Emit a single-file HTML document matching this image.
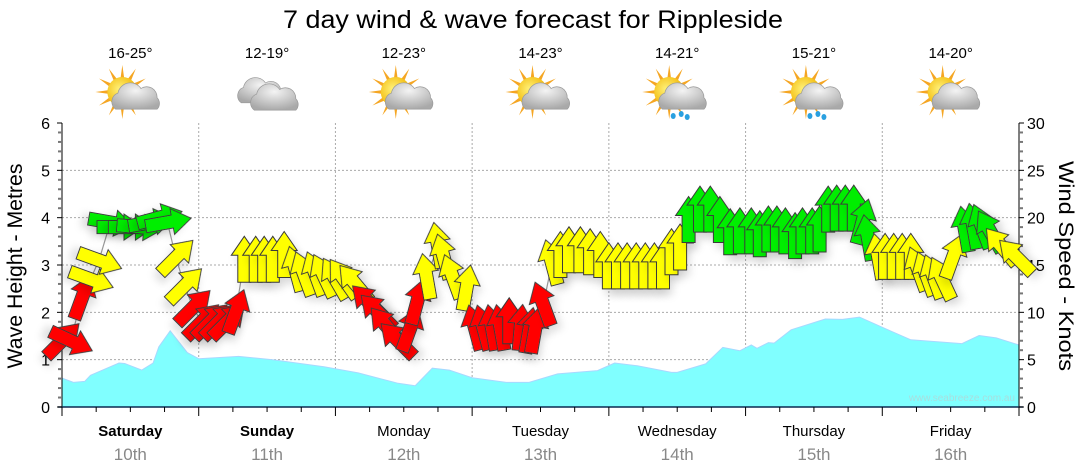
<!DOCTYPE html>
<html><head><meta charset="utf-8"><style>
html,body{margin:0;padding:0;background:#fff;}
svg{display:block;font-family:"Liberation Sans",sans-serif;}
</style></head><body>
<svg id="chart" width="1080" height="475" viewBox="0 0 1080 475" xmlns="http://www.w3.org/2000/svg">
<defs>
<filter id="sh" x="-50%" y="-50%" width="200%" height="200%"><feDropShadow dx="3" dy="6" stdDeviation="4" flood-color="#000" flood-opacity="0.12"/></filter>
<radialGradient id="cloudG" cx="50%" cy="30%" r="70%"><stop offset="0" stop-color="#f4f4f4"/><stop offset="1" stop-color="#a9a9a9"/></radialGradient>
<radialGradient id="sunG" cx="40%" cy="40%" r="60%"><stop offset="0" stop-color="#fff27a"/><stop offset="1" stop-color="#f2b705"/></radialGradient>
</defs>
<text x="533" y="28" font-size="25" text-anchor="middle" textLength="500" lengthAdjust="spacingAndGlyphs">7 day wind &amp; wave forecast for Rippleside</text>
<g id="days"></g>
<g id="grid"></g>
<g id="wave"></g>
<g id="axes"></g>
<g id="wind"></g>
<text x="1015" y="401" font-size="10" fill="#a8dede" text-anchor="end">www.seabreeze.com.au</text>
<text transform="translate(22,266) rotate(-90)" font-size="21" text-anchor="middle" textLength="205" lengthAdjust="spacingAndGlyphs">Wave Height - Metres</text>
<text transform="translate(1059,266) rotate(90)" font-size="21" text-anchor="middle" textLength="210" lengthAdjust="spacingAndGlyphs">Wind Speed - Knots</text>
</svg>
<script>
const dayNames = ["Saturday","Sunday","Monday","Tuesday","Wednesday","Thursday","Friday"];
const dayDates = ["10th","11th","12th","13th","14th","15th","16th"];
const dayBold = [true,true,false,false,false,false,false];
const dayTemps = ["16-25°","12-19°","12-23°","14-23°","14-21°","15-21°","14-20°"];
const dayIcons = ["sun-cloud","cloud","sun-cloud","sun-cloud","sun-rain","sun-rain","sun-cloud"];
const waveTicks = [0,1,2,3,4,5,6];
const windTicks = [0,5,10,15,20,25,30];
const waveHours = [0,2,4,5,10,11,14,16,17,19,22,24,31,37,46,52,59,62,65,68,72,78,82,87,94,97,101,107,108,113,116,119,121,122,124,125,128,134,137,140,145,149,158,161,164,168];
const waveHeights = [0.61,0.52,0.54,0.67,0.93,0.92,0.78,0.93,1.27,1.61,1.15,1.02,1.07,1.0,0.85,0.72,0.5,0.45,0.82,0.78,0.62,0.52,0.52,0.7,0.77,0.93,0.87,0.73,0.73,0.91,1.26,1.19,1.31,1.24,1.36,1.35,1.63,1.86,1.85,1.9,1.63,1.42,1.34,1.51,1.46,1.31];
const windHours = [0,1.5,3.5,5,6.5,8.5,10,12,13.5,15.5,17,18.5,20,21.5,23,24.5,26,27.5,29,30.5,32,34,35.5,37,39,41,42.5,44.5,46,48,49.5,51.5,54,55.5,57,59,61,62.3,64,66,67,68.6,71,72.5,74,75.5,77,78.5,80.5,82,83,84.5,86,87.5,89,91,92.7,94.5,96,97.6,99.2,100.8,102.4,104,105.5,107,108.5,110,112,113.8,115.5,117.3,119,121,122.5,124,125.5,127,128.7,130,131.7,133,134.5,136,137.5,139,140.5,141.5,143.3,144.5,146,147.5,149,150.3,151.7,153,154.5,156.4,158.5,160,161.5,163,165,167.6];
const windSpeeds = [7,7,11.5,13.5,15.5,19.5,19,19,19,19.5,20,19.5,15.8,12.8,10.5,9,9,9,9,10,15.5,15.5,15.5,15.5,16,14.5,14,14,13.8,13.5,13.5,13,11,10,8.5,7,8.1,11,13.7,17,15.8,13.7,12.5,8.3,8.3,8.3,8.3,9,8.3,8,8,10.8,15.2,16,16.5,16.5,16.3,16,14.8,14.8,14.8,14.8,14.8,14.8,14.8,16.3,16.8,19.7,20.8,20.8,19.7,18.4,18.5,18.5,18.2,18.7,18.7,18.5,18,18.5,18.5,18.7,20.8,20.9,20.9,20.9,19.5,17.8,15.8,15.8,15.8,15.8,15.8,14.5,14,13.7,13.5,15.8,18.7,19,19,18.5,16.9,15.8];
const windDirs = [45,115,20,110,110,100,90,90,95,80,75,80,45,45,45,45,45,45,45,20,0,0,0,0,0,-15,-20,-20,-25,-30,-35,-40,-45,-45,-40,-45,20,15,-10,-10,-15,-20,10,-15,-15,-10,-10,0,5,10,10,-20,-15,0,0,0,0,0,0,0,0,0,0,0,0,0,0,0,0,0,0,0,0,0,0,0,0,0,0,0,0,0,0,0,0,0,15,-10,-10,0,0,0,0,-20,-20,-20,-25,20,-10,-10,-20,-30,-40,-45];

const NS = "http://www.w3.org/2000/svg";
const X0 = 62, X1 = 1019, Y0 = 407, Y1 = 123;
const xH = h => X0 + h * (X1 - X0) / 168;
const yWave = m => Y0 - m * (Y0 - Y1) / 6;
const yWind = k => Y0 - k * (Y0 - Y1) / 30;
function mk(tag, attrs, parent, txt) {
  const e = document.createElementNS(NS, tag);
  for (const k in attrs) e.setAttribute(k, attrs[k]);
  if (txt !== undefined) e.textContent = txt;
  parent.appendChild(e);
  return e;
}
const gDays = document.getElementById("days"), gGrid = document.getElementById("grid"),
      gWave = document.getElementById("wave"), gAxes = document.getElementById("axes"), gWind = document.getElementById("wind");

waveTicks.forEach(t => {
  if (t === 0 || t === 6) return;
  const l = mk("line", {x1: X0, x2: X1, y1: yWave(t), y2: yWave(t), stroke: "#aaa", "stroke-dasharray": "2,2"}, gGrid);
  
  
});
for (let d = 1; d < 7; d++) {
  const l = mk("line", {x1: xH(d*24), x2: xH(d*24), y1: Y1, y2: Y0, stroke: "#aaa", "stroke-dasharray": "2,2"}, gGrid);
  
  
}

let dPath = "M" + xH(waveHours[0]) + "," + Y0;
waveHours.forEach((h, i) => { dPath += " L" + xH(h).toFixed(1) + "," + yWave(waveHeights[i]).toFixed(1); });
dPath += " L" + xH(waveHours[waveHours.length-1]) + "," + Y0 + " Z";
const wa = mk("path", {d: dPath, fill: "#80ffff", stroke: "#a8d8ff", "stroke-width": 1}, gWave);



mk("line", {x1: X0, x2: X0, y1: Y1, y2: Y0, stroke: "#000"}, gAxes);
mk("line", {x1: X1, x2: X1, y1: Y1, y2: Y0, stroke: "#000"}, gAxes);
mk("line", {x1: X0-4, x2: X1+4, y1: Y0, y2: Y0, stroke: "#0a2a50", "stroke-width": 1.5}, gAxes);
for (let i = 0; i <= 30; i++) {
  const y = yWave(i/5), maj = i % 5 === 0;
  mk("line", {x1: X0 - (maj ? 5 : 4), x2: X0, y1: y, y2: y, stroke: maj ? "#000" : "#777", "stroke-width": maj ? 1 : 2}, gAxes);
}
for (let i = 0; i <= 30; i++) {
  const y = yWind(i), maj = i % 5 === 0;
  mk("line", {x1: X1, x2: X1 + (maj ? 5 : 4), y1: y, y2: y, stroke: maj ? "#000" : "#777", "stroke-width": maj ? 1 : 2}, gAxes);
}
waveTicks.forEach(t => {
  const e = mk("text", {x: 50, y: yWave(t) + 6, "font-size": 16, "text-anchor": "end"}, gAxes, String(t));
  
  
});
windTicks.forEach(t => {
  const e = mk("text", {x: 1027, y: yWind(t) + 6, "font-size": 16}, gAxes, String(t));
  
  
});
for (let h = 0; h <= 168; h += 6) {
  const maj = h % 24 === 0;
  mk("line", {x1: xH(h), x2: xH(h), y1: Y0, y2: Y0 + (maj ? 9 : 5), stroke: "#000"}, gAxes);
}

function icon(g, cx, type) {
  const sx = cx - 8, sy = 92;
  const sun = () => {
    const s = mk("g", {}, g);
    for (let a = 0; a < 360; a += 30) {
      const r = a * Math.PI / 180;
      mk("polygon", {points: `${sx+Math.cos(r)*27},${sy+Math.sin(r)*27} ${sx+Math.cos(r+0.15)*13},${sy+Math.sin(r+0.15)*13} ${sx+Math.cos(r-0.15)*13},${sy+Math.sin(r-0.15)*13}`, fill: "#f5a623"}, s);
    }
    mk("circle", {cx: sx, cy: sy, r: 15, fill: "url(#sunG)"}, s);
  };
  const cloud = (ox, oy, sc) => {
    const c = mk("g", {transform: `translate(${ox},${oy}) scale(${sc})`}, g);
    mk("path", {d: "M-18,8 a8,8 0 0 1 2,-14 a11,11 0 0 1 20,-4 a9,9 0 0 1 14,8 a7,7 0 0 1 0,10 z", fill: "url(#cloudG)", stroke: "#999", "stroke-width": 0.6}, c);
  };
  if (type === "cloud") { cloud(cx-6, 94, 1.1); cloud(cx+8, 101, 1.15); }
  else {
    sun(); cloud(cx+6, 100, 1.15);
    if (type === "sun-rain") {
      [[-4,116],[4,114],[10,117]].forEach(p => mk("ellipse", {cx: cx+p[0], cy: p[1], rx: 2.5, ry: 3, fill: "#2aa0e0"}, g));
    }
  }
}
dayNames.forEach((n, i) => {
  const cx = xH(i*24 + 12);
  const t1 = mk("text", {x: cx, y: 436, "font-size": 15, "text-anchor": "middle", "font-weight": dayBold[i] ? "bold" : "normal"}, gDays, n);
  
  
  const t2 = mk("text", {x: cx, y: 460, "font-size": 17, fill: "#888", "text-anchor": "middle"}, gDays, dayDates[i]);
  
  
  const t3 = mk("text", {x: cx, y: 58, "font-size": 15, "text-anchor": "middle"}, gDays, dayTemps[i]);
  
  
  const ig = mk("g", {}, gDays);
  
  
  icon(ig, cx, dayIcons[i]);
});

let lp = "";
windHours.forEach((h, i) => { lp += (i ? " L" : "M") + xH(h).toFixed(1) + "," + yWind(windSpeeds[i]).toFixed(1); });
const wl = mk("path", {d: lp, fill: "none", stroke: "#999", "stroke-width": 1.2}, gWind);


const arrowD = "M0,-24 L13,-5 L6.5,-5 L6.5,22 L-6.5,22 L-6.5,-5 L-13,-5 Z";
windHours.forEach((h, i) => {
  const s = windSpeeds[i];
  const col = s < 12 ? "#ff0000" : (s < 17.5 ? "#ffff00" : "#00ee00");
  const a = mk("path", {d: arrowD, fill: col, stroke: "#3a3a3a", "stroke-width": 1, filter: "url(#sh)",
    transform: `translate(${xH(h).toFixed(1)},${yWind(s).toFixed(1)}) rotate(${windDirs[i]})`}, gWind);
  
  
});
</script>
</body></html>
